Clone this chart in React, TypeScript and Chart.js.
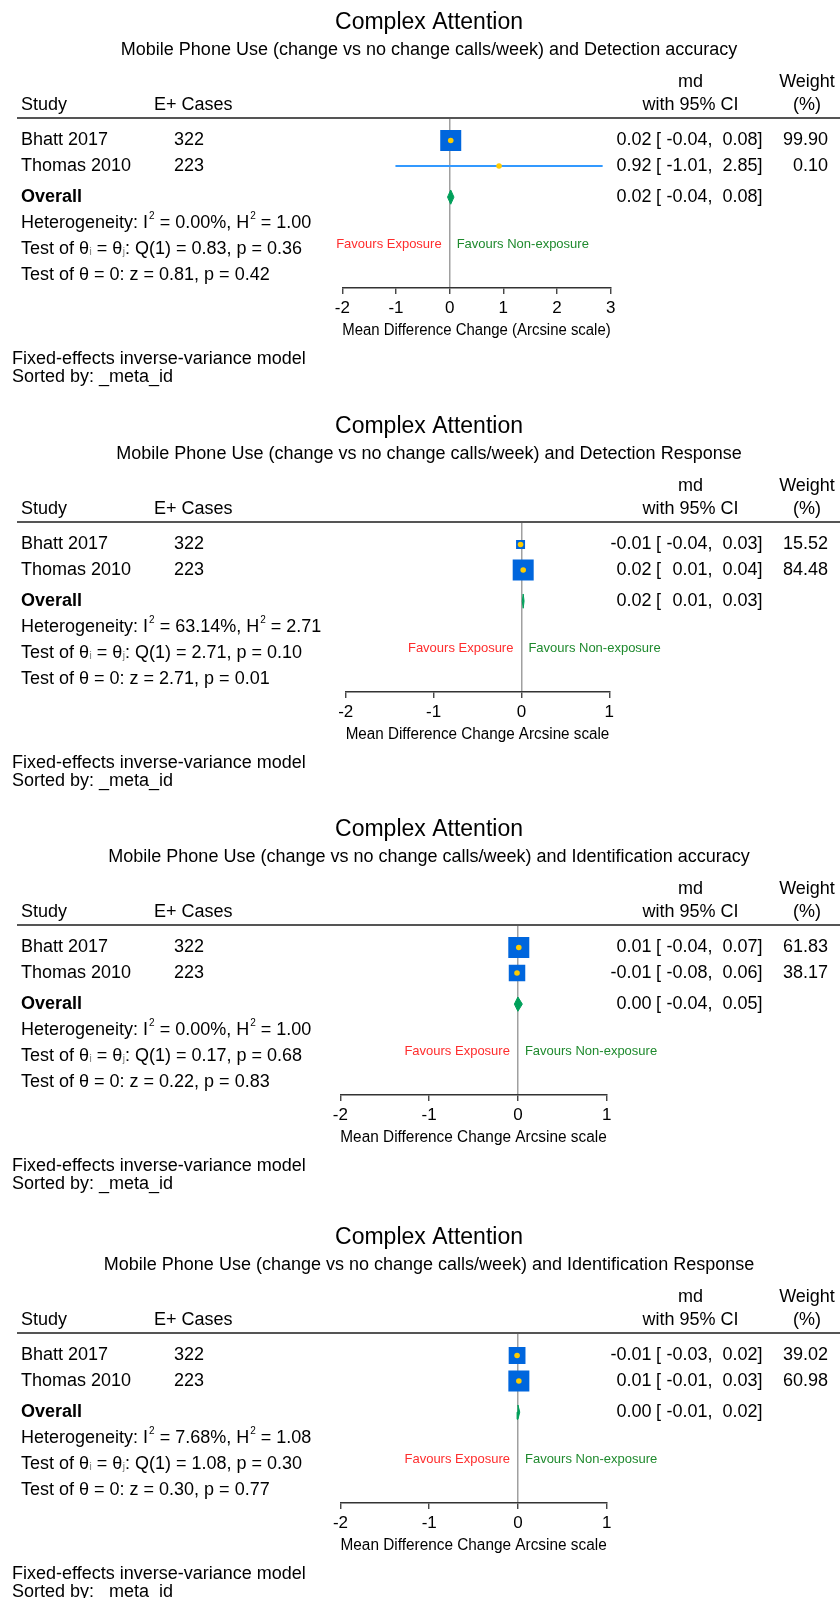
import React, { useEffect, useRef } from "react";
import { Chart, registerables } from "chart.js";

Chart.register(...registerables);

// ---------------- data ----------------
const studyNames = ["Bhatt 2017", "Thomas 2010"];
const studyCases = [322, 223];
const outcomeNames = [
  "Detection accuracy",
  "Detection Response",
  "Identification accuracy",
  "Identification Response",
];
const axisTitles = [
  "Mean Difference Change (Arcsine scale)",
  "Mean Difference Change Arcsine scale",
  "Mean Difference Change Arcsine scale",
  "Mean Difference Change Arcsine scale",
];
const axisMin = [-2, -2, -2, -2];
const axisMax = [3, 1, 1, 1];
const studyMd = [
  [0.02, 0.92],
  [-0.01, 0.02],
  [0.01, -0.01],
  [-0.01, 0.01],
];
const studyLow = [
  [-0.04, -1.01],
  [-0.04, 0.01],
  [-0.04, -0.08],
  [-0.03, -0.01],
];
const studyHigh = [
  [0.08, 2.85],
  [0.03, 0.04],
  [0.07, 0.06],
  [0.02, 0.03],
];
const studyWeight = [
  [99.9, 0.1],
  [15.52, 84.48],
  [61.83, 38.17],
  [39.02, 60.98],
];
const overallMd = [0.02, 0.02, 0.0, 0.0];
const overallLow = [-0.04, 0.01, -0.04, -0.01];
const overallHigh = [0.08, 0.03, 0.05, 0.02];
const hetI2 = [0.0, 63.14, 0.0, 7.68];
const hetH2 = [1.0, 2.71, 1.0, 1.08];
const qStat = [0.83, 2.71, 0.17, 1.08];
const qP = [0.36, 0.1, 0.68, 0.3];
const zStat = [0.81, 2.71, 0.22, 0.3];
const zP = [0.42, 0.01, 0.83, 0.77];

// ---------------- layout / style ----------------
const FONT = '"Liberation Sans", Arial, Helvetica, sans-serif';
const W = 840;
const PANEL_H = 404;
const PANEL_TOP = [0, 404, 807, 1215];
const AXIS_PX_LEFT = [342.3, 345.7, 340.3, 340.5];
const AXIS_PX_RIGHT = [610.7, 609.3, 606.7, 606.7];
const HEADER_Y = 118;
const AXIS_Y = 288;
const XAXIS_H = 52;
const ROW_UNIT = 25.5;
const FIRST_ROW_Y = 140.5;
const Y_MIN = 1 - (FIRST_ROW_Y - HEADER_Y) / ROW_UNIT;
const Y_MAX = 1 + (AXIS_Y - FIRST_ROW_Y) / ROW_UNIT;
const STUDY_ROWS = [1, 2];
const OVERALL_ROW = 3.22;
const STAT_ROWS = [4.24, 5.24, 6.26];
const FAVOURS_ROW = 5.08;
const DIAMOND_HALF = 0.28;
const MAX_BOX = 21;

const CI_BLUE = "#3399ff";
const BOX_BLUE = "#0066dd";
const DOT_YELLOW = "#ffcc00";
const DIAMOND_GREEN = "#00a05a";

const fmt = (v: number) => v.toFixed(2);

function makeTextPlugin(p: number) {
  return {
    id: "forestText" + p,
    afterDraw(chart: any) {
      const ctx: CanvasRenderingContext2D = chart.ctx;
      const xs = chart.scales.x;
      const ys = chart.scales.y;
      const font = (size: number, weight = "normal") => `${weight} ${size}px ${FONT}`;
      const text = (
        s: string,
        x: number,
        y: number,
        align: CanvasTextAlign,
        size = 18,
        color = "#000",
        weight = "normal"
      ) => {
        ctx.font = font(size, weight);
        ctx.fillStyle = color;
        ctx.textAlign = align;
        ctx.textBaseline = "middle";
        ctx.fillText(s, x, y);
      };
      const rich = (parts: [string, string][], x: number, y: number) => {
        let cx = x;
        ctx.textAlign = "left";
        ctx.textBaseline = "middle";
        for (const [s, k] of parts) {
          if (k === "n") {
            ctx.font = font(18);
            ctx.fillStyle = "#000";
            ctx.fillText(s, cx, y);
            cx += ctx.measureText(s).width;
          } else if (k === "sup") {
            ctx.font = font(10);
            ctx.fillStyle = "#000";
            ctx.fillText(s, cx + 1, y - 7);
            cx += ctx.measureText(s).width + 1;
          } else {
            ctx.font = font(10);
            ctx.fillStyle = "#777";
            ctx.fillText(s, cx + 0.5, y + 4);
            cx += ctx.measureText(s).width + 0.5;
          }
        }
      };
      const ci = (y: number, md: number, lo: number, hi: number) => {
        text(fmt(md), 651.5, y, "right");
        text("[", 656, y, "left");
        text(fmt(lo), 707.5, y, "right");
        text(",", 707.5, y, "left");
        text(fmt(hi), 757.5, y, "right");
        text("]", 757.5, y, "left");
      };

      ctx.save();
      // titles
      text("Complex Attention", 429, 23, "center", 23);
      text(
        `Mobile Phone Use (change vs no change calls/week) and ${outcomeNames[p]}`,
        429,
        50.5,
        "center",
        18
      );
      // column headers
      text("md", 690.5, 82, "center");
      text("Weight", 807, 82, "center");
      text("Study", 21, 105, "left");
      text("E+ Cases", 154, 105, "left");
      text("with 95% CI", 690.5, 105, "center");
      text("(%)", 807, 105, "center");
      // header rule
      ctx.strokeStyle = "#555";
      ctx.lineWidth = 2;
      ctx.beginPath();
      ctx.moveTo(17, chart.chartArea.top);
      ctx.lineTo(W, chart.chartArea.top);
      ctx.stroke();

      // study rows
      studyNames.forEach((name, i) => {
        const y = ys.getPixelForValue(STUDY_ROWS[i]);
        text(name, 21, y, "left");
        text(String(studyCases[i]), 174, y, "left");
        ci(y, studyMd[p][i], studyLow[p][i], studyHigh[p][i]);
        text(fmt(studyWeight[p][i]), 828, y, "right");
      });
      // overall
      const oy = ys.getPixelForValue(OVERALL_ROW);
      text("Overall", 21, oy, "left", 18, "#000", "bold");
      ci(oy, overallMd[p], overallLow[p], overallHigh[p]);

      // stats
      rich(
        [
          ["Heterogeneity: I", "n"],
          ["2", "sup"],
          [` = ${fmt(hetI2[p])}%, H`, "n"],
          ["2", "sup"],
          [` = ${fmt(hetH2[p])}`, "n"],
        ],
        21,
        ys.getPixelForValue(STAT_ROWS[0])
      );
      rich(
        [
          ["Test of θ", "n"],
          ["i", "sub"],
          [" = θ", "n"],
          ["j", "sub"],
          [`: Q(1) = ${fmt(qStat[p])}, p = ${fmt(qP[p])}`, "n"],
        ],
        21,
        ys.getPixelForValue(STAT_ROWS[1])
      );
      rich(
        [[`Test of θ = 0: z = ${fmt(zStat[p])}, p = ${fmt(zP[p])}`, "n"]],
        21,
        ys.getPixelForValue(STAT_ROWS[2])
      );

      // favours labels
      const x0 = xs.getPixelForValue(0);
      const fy = ys.getPixelForValue(FAVOURS_ROW);
      text("Favours Exposure", x0 - 8, fy, "right", 13, "#ff2d2d");
      text("Favours Non-exposure", x0 + 7, fy, "left", 13, "#1f8a2e");

      // footer
      text("Fixed-effects inverse-variance model", 12, 359.5, "left");
      text("Sorted by: _meta_id", 12, 377, "left");
      ctx.restore();
    },
  };
}

function buildConfig(p: number): any {
  const rows = STUDY_ROWS;
  const maxW = Math.max(...studyWeight[p]);
  const datasets: any[] = [];
  studyNames.forEach((_, i) => {
    datasets.push({
      type: "scatter",
      data: [
        { x: studyLow[p][i], y: rows[i] },
        { x: studyHigh[p][i], y: rows[i] },
      ],
      showLine: true,
      borderColor: CI_BLUE,
      borderWidth: 2,
      pointRadius: 0,
      order: 5,
    });
  });
  datasets.push({
    type: "scatter",
    data: studyMd[p].map((m, i) => ({ x: m, y: rows[i] })),
    pointStyle: "rect",
    pointRadius: studyWeight[p].map((w) => (MAX_BOX * Math.sqrt(w / maxW)) / Math.SQRT2),
    backgroundColor: BOX_BLUE,
    borderColor: BOX_BLUE,
    borderWidth: 0,
    order: 3,
  });
  datasets.push({
    type: "scatter",
    data: studyMd[p].map((m, i) => ({ x: m, y: rows[i] })),
    pointStyle: "circle",
    pointRadius: 2.8,
    backgroundColor: DOT_YELLOW,
    borderWidth: 0,
    order: 1,
  });
  const r = OVERALL_ROW;
  datasets.push({
    type: "line",
    data: [
      { x: overallLow[p], y: r },
      { x: overallMd[p], y: r - DIAMOND_HALF },
      { x: overallHigh[p], y: r },
      { x: overallMd[p], y: r + DIAMOND_HALF },
      { x: overallLow[p], y: r },
    ],
    fill: "shape",
    backgroundColor: DIAMOND_GREEN,
    borderColor: DIAMOND_GREEN,
    borderWidth: 1,
    pointRadius: 0,
    tension: 0,
    order: 2,
  });

  return {
    type: "scatter",
    data: { datasets },
    options: {
      animation: false,
      responsive: false,
      devicePixelRatio: 1,
      events: [],
      layout: {
        padding: {
          left: AXIS_PX_LEFT[p],
          right: W - AXIS_PX_RIGHT[p],
          top: HEADER_Y,
          bottom: PANEL_H - AXIS_Y - XAXIS_H,
        },
      },
      plugins: {
        legend: { display: false },
        tooltip: { enabled: false },
        title: { display: false },
      },
      scales: {
        x: {
          type: "linear",
          min: axisMin[p],
          max: axisMax[p],
          ticks: {
            stepSize: 1,
            color: "#000",
            font: { size: 17, family: FONT },
            padding: 4,
            maxRotation: 0,
            autoSkip: false,
          },
          grid: {
            display: true,
            drawOnChartArea: true,
            drawTicks: true,
            tickLength: 6,
            tickColor: "#333",
            tickWidth: 1.3,
            lineWidth: 1.5,
            color: (c: any) =>
              c.tick && c.tick.value === 0 ? "#a0a0a0" : "rgba(0,0,0,0)",
          },
          border: { display: true, color: "#333", width: 1.5 },
          title: {
            display: true,
            text: axisTitles[p],
            color: "#000",
            font: { size: 16, family: FONT },
            padding: 0,
          },
          afterFit: (s: any) => {
            s.height = XAXIS_H;
          },
        },
        y: {
          type: "linear",
          display: false,
          reverse: true,
          min: Y_MIN,
          max: Y_MAX,
        },
      },
    },
    plugins: [makeTextPlugin(p)],
  };
}

function Panel({ idx }: { idx: number }) {
  const ref = useRef<HTMLCanvasElement>(null);
  useEffect(() => {
    if (!ref.current) return;
    const chart = new Chart(ref.current, buildConfig(idx));
    return () => chart.destroy();
  }, [idx]);
  return (
    <canvas
      ref={ref}
      width={W}
      height={PANEL_H}
      style={{
        position: "absolute",
        left: 0,
        top: PANEL_TOP[idx],
        width: W,
        height: PANEL_H,
      }}
    />
  );
}

export default function App() {
  return (
    <div
      style={{
        position: "fixed",
        left: 0,
        top: 0,
        width: 840,
        height: 1598,
        overflow: "hidden",
        background: "#fff",
      }}
    >
      {[0, 1, 2, 3].map((i) => (
        <Panel key={i} idx={i} />
      ))}
    </div>
  );
}
